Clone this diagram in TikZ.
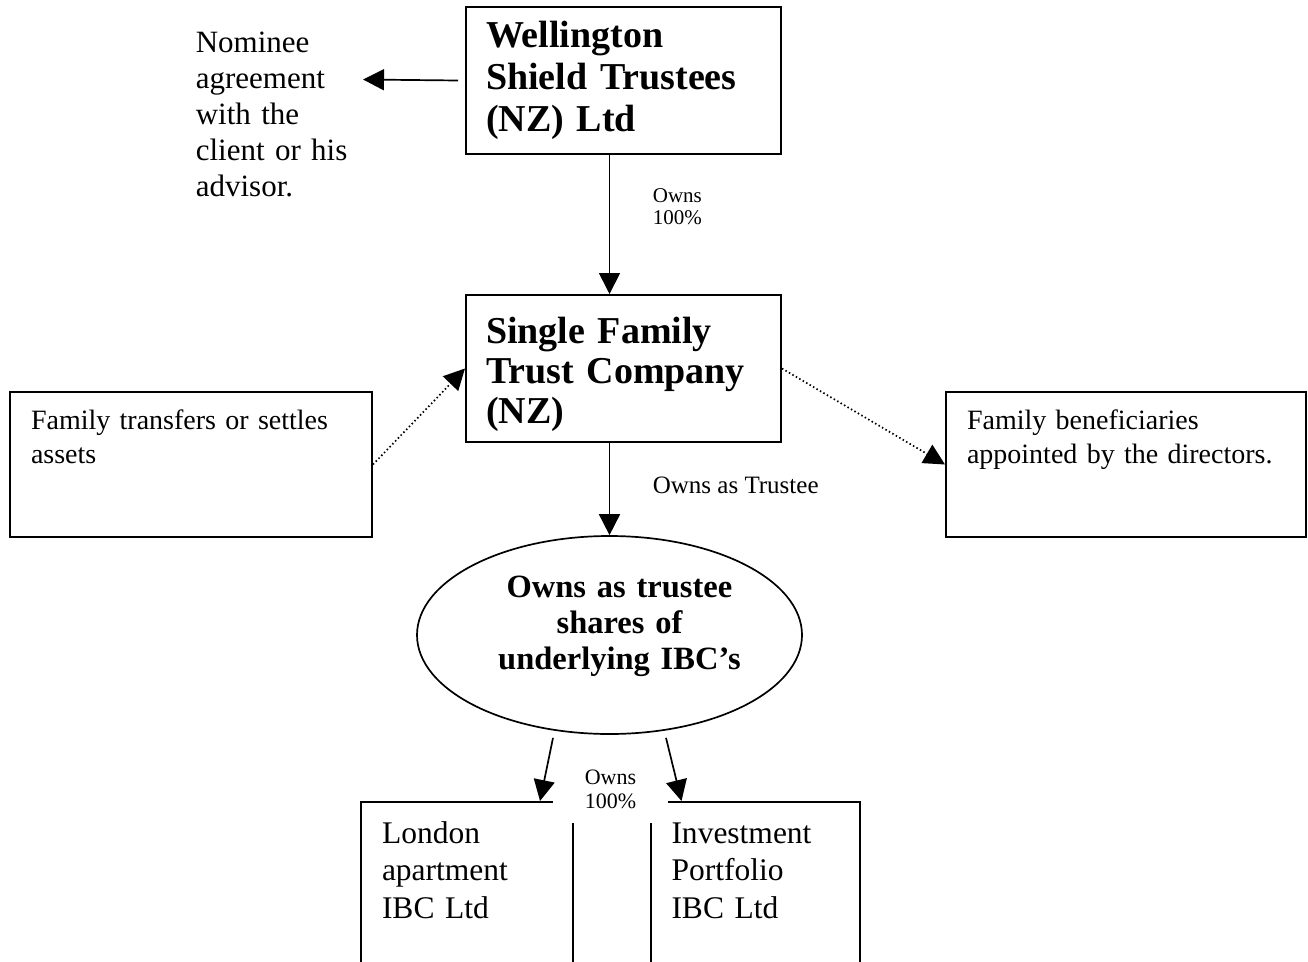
\documentclass[tikz,border=0pt]{standalone}
\usepackage{fontspec}
\setmainfont{Liberation Serif}
\usepackage{tikz}
\usetikzlibrary{arrows.meta,shapes.geometric}
\newcommand{\fs}[2]{\fontsize{#1}{#2}\selectfont}

\begin{document}
\begin{tikzpicture}[x=1pt, y=-1pt, line width=1.7pt,
	 arr/.style={-{Triangle[length=21pt,width=21pt]}},
	 dotarr/.style={arr, dash pattern=on 1.5pt off 2.5pt},
	 bigbox/.style={draw, line width=2pt, anchor=north west, inner xsep=20pt, text width=275pt, minimum height=147pt, font=\bfseries\fs{38}{42}},
	 sidebox/.style={draw, line width=2pt, anchor=north west, inner xsep=21pt, inner ysep=10pt, text height=27pt, text depth=98pt, font=\fs{28}{34}},
	 lowbox/.style={sidebox, text height=31pt, text depth=200pt, font=\fs{31.5}{37.5}},
	 plaintext/.style={anchor=base west, inner sep=0pt}]
	    \useasboundingbox (0,0) rectangle (1308,961);
	    \clip (0,0) rectangle (1308,961);
	    % top of the structure
	    \node[bigbox] (wst) at (465,6) {Wellington\\Shield Trustees\\(NZ) Ltd};
	    \node[plaintext, text width=160pt, font=\fs{31}{36}] (nom) at (195,52) {Nominee\\agreement\\with the\\client or his\\advisor.};
	    \coordinate (nomtip) at (363,79.5);
	    \node[bigbox, text depth=77pt, font=\bfseries\fs{38}{40}] (sft) at (465,294) {Single Family\\Trust Company\\(NZ)};
	    \node[sidebox, text width=320pt] (fam) at (9,391) {Family transfers or settles\\assets};
	    \node[sidebox, text width=318pt] (ben) at (945,391) {Family beneficiaries\\appointed by the directors.};
	    \node[draw, ellipse, minimum width=385pt, minimum height=198pt, inner sep=0pt, text width=270pt, text depth=96pt, font=\bfseries\fs{32.5}{36}] (ell) at (609.5,635) {\centering\leftskip=20pt plus 1fil Owns as trustee\\shares of\\underlying IBC’s\par};
	    % underlying companies
	    \node[lowbox, text width=170pt] (lon) at (360,801) {London\\apartment\\IBC Ltd};
	    \node[lowbox, text width=167.5pt] (inv) at (649.5,801) {Investment\\Portfolio\\IBC Ltd};
	    \node[fill=white, minimum width=115pt, minimum height=68pt, inner sep=0pt, align=center, text width=100pt, font=\fs{22}{24}] (own3) at (610.5,789) {Owns\\100\%};
	    \node[plaintext, text width=60pt, font=\fs{21}{22}] (own1) at (652,202) {Owns\\100\%};
	    \node[plaintext, font=\fs{25}{30}] (own2) at (652,493) {Owns as Trustee};
	    % connectors
	    \draw[arr] ([xshift=-7pt]wst.west) -- (nomtip);
	    \draw[arr] (wst.south -| ell.center) -- (sft.north -| ell.center);
	    \draw[arr] (sft.south -| ell.center) -- (ell.north);
	    \draw[dotarr] (fam.east) -- (sft.west);
	    \draw[dotarr] (sft.east) -- (ben.west);
	    \draw[arr] ([xshift=-56.5pt,yshift=-3pt]ell.south) -- ([xshift=-34pt]lon.north east);
	    \draw[arr] ([xshift=56.5pt,yshift=-3pt]ell.south) -- ([xshift=32pt]inv.north west);
	 \end{tikzpicture}
\end{document}
